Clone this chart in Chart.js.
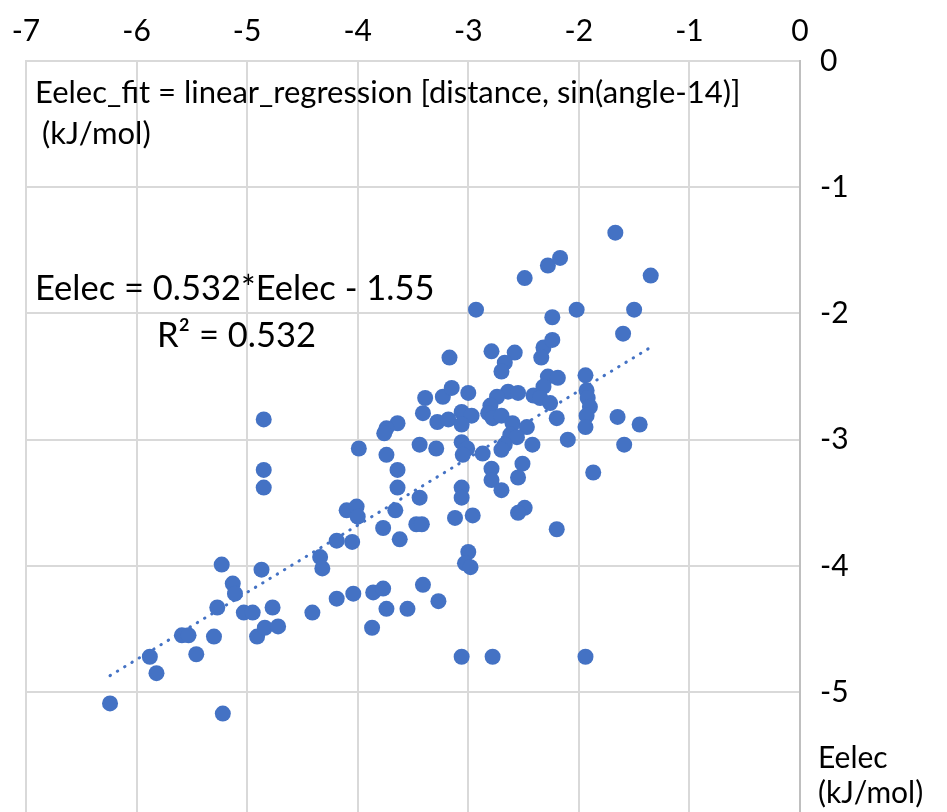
<!DOCTYPE html>
<html>
<head>
<meta charset="utf-8">
<script src="https://cdn.jsdelivr.net/npm/chart.js@4"></script>
<style>
  html, body { margin: 0; padding: 0; background: #fff; overflow: hidden; }
  #wrap { width: 947px; height: 812px; }
</style>
</head>
<body>
<div id="wrap"><canvas id="chart"></canvas></div>
<script>
// Eelec (x) vs fitted Eelec (y), kJ/mol
const eelec = [
  -6.24, -5.88, -5.82, -5.59, -5.53, -5.46, -5.30, -5.27, -5.23, -5.22,
  -5.13, -5.11, -5.03, -4.95, -4.91, -4.87, -4.84, -4.72, -4.77, -4.85,
  -4.85, -4.85, -4.41, -4.34, -4.32, -4.19, -4.05, -4.19, -4.04, -3.86,
  -3.77, -3.74, -3.55, -3.41, -3.27, -3.87, -4.10, -4.01, -4.00, -3.99,
  -3.77, -3.62, -3.47, -3.42, -3.66, -3.74, -3.64, -3.64, -3.44, -3.06,
  -3.06, -3.12, -2.96, -3.00, -3.03, -2.98, -3.06, -2.78, -1.94, -3.17,
  -3.39, -3.23, -3.15, -3.00, -3.41, -3.28, -3.18, -3.06, -2.97, -3.06,
  -3.64, -3.74, -3.76, -3.44, -3.29, -3.06, -3.01, -3.05, -2.87, -2.79,
  -2.58, -2.67, -2.70, -2.32, -2.24, -2.34, -2.28, -2.19, -2.32, -2.64,
  -2.55, -2.74, -2.41, -2.35, -2.26, -2.80, -2.82, -2.78, -2.70, -2.20,
  -2.60, -2.47, -2.62, -2.56, -2.67, -2.70, -2.42, -2.10, -1.94, -1.93,
  -1.92, -1.90, -1.93, -1.94, -2.51, -2.79, -2.79, -2.55, -2.70, -1.87,
  -2.49, -2.55, -2.20, -1.65, -1.45, -1.59, -2.93, -2.49, -2.28, -2.17,
  -2.24, -2.02, -1.67, -1.35, -1.50, -1.60
];
const eelecFit = [
  -5.09, -4.72, -4.85, -4.55, -4.55, -4.70, -4.56, -4.33, -3.99, -5.17,
  -4.14, -4.22, -4.37, -4.37, -4.56, -4.03, -4.49, -4.48, -4.33, -2.84,
  -3.24, -3.38, -4.37, -3.93, -4.02, -3.80, -3.81, -4.26, -4.22, -4.21,
  -4.18, -4.34, -4.34, -4.15, -4.28, -4.49, -3.56, -3.53, -3.61, -3.07,
  -3.70, -3.79, -3.67, -3.67, -3.56, -3.12, -3.24, -3.38, -3.46, -3.38,
  -3.46, -3.62, -3.60, -3.89, -3.98, -4.01, -4.72, -4.72, -4.72, -2.35,
  -2.67, -2.66, -2.59, -2.63, -2.79, -2.86, -2.84, -2.78, -2.81, -2.88,
  -2.87, -2.91, -2.95, -3.04, -3.07, -3.02, -3.07, -3.12, -3.11, -2.30,
  -2.31, -2.39, -2.46, -2.27, -2.21, -2.35, -2.50, -2.51, -2.58, -2.62,
  -2.63, -2.66, -2.65, -2.67, -2.71, -2.73, -2.79, -2.83, -2.81, -2.83,
  -2.87, -2.90, -2.96, -2.98, -3.04, -3.08, -3.04, -3.00, -2.49, -2.61,
  -2.67, -2.74, -2.81, -2.90, -3.19, -3.23, -3.32, -3.30, -3.40, -3.26,
  -3.54, -3.58, -3.71, -2.82, -2.88, -3.04, -1.97, -1.72, -1.62, -1.56,
  -2.03, -1.97, -1.36, -1.70, -1.97, -2.16
];

const xTicks = [-7, -6, -5, -4, -3, -2, -1, 0];
const yTicks = [0, -1, -2, -3, -4, -5];

// linear trendline
const slope = 0.532;
const intercept = -1.55;
const rSquared = 0.532;

const blue = '#4472c4';
const gridColor = '#d9d9d9';
const fontFamily = 'Lato, "Open Sans", sans-serif';

const points = eelec.map((x, i) => ({ x: x, y: eelecFit[i] }));
const xMin = Math.min(...eelec);
const xMax = Math.max(...eelec);
const trend = [
  { x: xMin, y: slope * xMin + intercept },
  { x: xMax, y: slope * xMax + intercept }
];

// free text: chart note, trendline label, axis title
const textPlugin = {
  id: 'texts',
  afterDraw(chart) {
    const ctx = chart.ctx;
    ctx.save();
    ctx.fillStyle = '#000';
    ctx.textAlign = 'left';
    ctx.textBaseline = 'alphabetic';

    ctx.font = '31px ' + fontFamily;
    ctx.fillText('Eelec_fit = linear_regression [distance, sin(angle-14)]', 35, 103);
    ctx.fillText('(kJ/mol)', 42, 144);

    ctx.font = '34.5px ' + fontFamily;
    ctx.fillText('Eelec = ' + slope + '*Eelec - ' + Math.abs(intercept), 35, 300);
    ctx.fillText('R\u00b2 = ' + rSquared, 157, 347);

    ctx.font = '30px ' + fontFamily;
    ctx.fillText('Eelec', 818, 768);
    ctx.fillText('(kJ/mol)', 818, 803);
    ctx.restore();
  }
};

new Chart(document.getElementById('chart'), {
  type: 'scatter',
  data: {
    datasets: [
      {
        data: points,
        backgroundColor: blue,
        borderColor: blue,
        pointRadius: 8,
        pointHoverRadius: 8,
        borderWidth: 0
      },
      {
        type: 'line',
        data: trend,
        borderColor: blue,
        borderWidth: 3,
        borderDash: [0.5, 8],
        borderCapStyle: 'round',
        pointRadius: 0,
        fill: false
      }
    ]
  },
  options: {
    responsive: true,
    maintainAspectRatio: false,
    animation: false,
    layout: {
      autoPadding: false,
      padding: { left: 26, top: 0, right: 0, bottom: 0 }
    },
    plugins: {
      legend: { display: false },
      tooltip: { enabled: false }
    },
    scales: {
      x: {
        type: 'linear',
        position: 'top',
        min: -7,
        max: 0,
        afterBuildTicks: axis => { axis.ticks = xTicks.map(v => ({ value: v })); },
        afterFit: scale => {
          scale.height = 61;
          scale.paddingLeft = 0;
          scale.paddingRight = 0;
        },
        ticks: {
          color: '#000',
          font: { family: fontFamily, size: 30 },
          padding: 12,
          maxRotation: 0
        },
        grid: { color: gridColor, lineWidth: 2, drawTicks: false },
        border: { color: gridColor, width: 2 }
      },
      y: {
        type: 'linear',
        position: 'right',
        min: -5.95,
        max: 0,
        afterBuildTicks: axis => { axis.ticks = yTicks.map(v => ({ value: v })); },
        afterFit: scale => {
          scale.width = 147;
          scale.paddingTop = 0;
          scale.paddingBottom = 0;
        },
        ticks: {
          color: '#000',
          font: { family: fontFamily, size: 30 },
          padding: 20
        },
        grid: { color: gridColor, lineWidth: 2, drawTicks: false },
        border: { color: '#bfbfbf', width: 2 }
      }
    }
  },
  plugins: [textPlugin]
});
</script>
</body>
</html>
